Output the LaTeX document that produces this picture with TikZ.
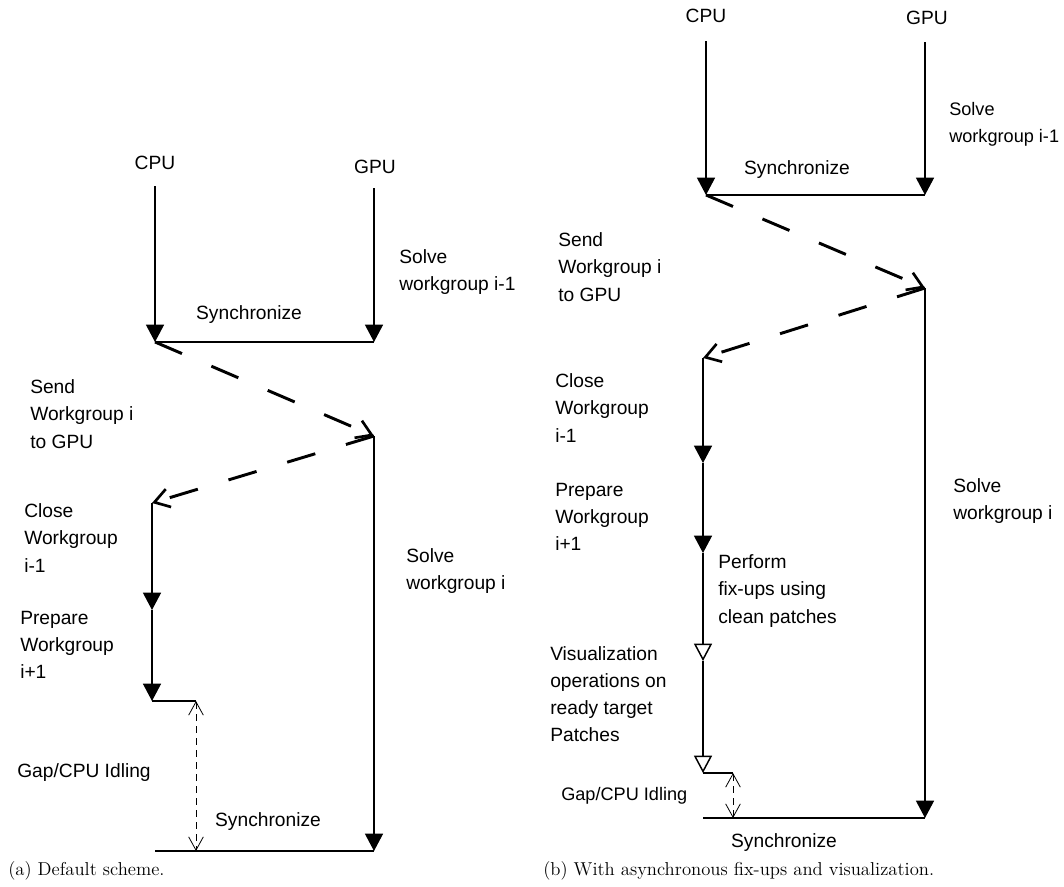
\documentclass[tikz,border=0pt]{standalone}
\usepackage{fontspec}
\newfontfamily\labelfont{Liberation Sans}
\usetikzlibrary{arrows.meta}

\begin{document}
\begin{tikzpicture}[x=0.75pt, y=-0.75pt,
    lane/.style={line width=1.1pt},
    flow/.style={lane, -{Triangle[length=13pt, width=13.5pt]}},
    flowopen/.style={lane, -{Triangle[open, length=13pt, width=13.5pt]}},
    transfer/.style={line width=2.2pt, dash pattern=on 22pt off 24pt, -{Straight Barb[length=11pt, width=14pt, line width=2pt]}},
    idle/.style={line width=0.6pt, dash pattern=on 5pt off 4pt, {Straight Barb[length=10pt, width=11pt]}-{Straight Barb[length=10pt, width=11pt]}},
    lbl/.style={font={\labelfont\fontsize{14.4pt}{20.4pt}\selectfont}, align=left, anchor=west, inner sep=0pt},
    unitlbl/.style={font={\labelfont\fontsize{14.4pt}{20.4pt}\selectfont}, inner sep=0pt},
    subcap/.style={font=\fontsize{14pt}{16pt}\selectfont, anchor=west, inner sep=0pt}]
    \useasboundingbox (0,0) rectangle (1064,886);

    % (a) default scheme
    \node[unitlbl] (aCPU) at (155,163) {CPU};
    \node[unitlbl] (aGPU) at (375,167) {GPU};
    \coordinate (a1) at (155,186);
    \coordinate (a2) at (155,342);
    \coordinate (a3) at (374,188);
    \coordinate (a4) at (374,342);
    \coordinate (a5) at (374,436);
    \coordinate (a6) at (374,851);
    \coordinate (a7) at (152,503);
    \coordinate (a8) at (152,610);
    \coordinate (a9) at (152,701);
    \coordinate (a10) at (196,701);
    \coordinate (a11) at (155,851);
    \coordinate (a12) at (196,851);
    \draw[flow] (a1) -- (a2);
    \draw[flow] (a3) -- (a4);
    \draw[lane] (a2) -- (a4);
    \draw[transfer] (a2) -- (a5);
    \draw[transfer] (a5) -- (a7);
    \draw[flow] (a7) -- (a8);
    \draw[flow] (a8) -- (a9);
    \draw[lane] (a9) -- (a10);
    \draw[idle] (a10) -- (a12);
    \draw[flow] (a5) -- (a6);
    \draw[lane] (a11) -- (a6);
    \node[unitlbl] (aSync1) at (249,315) {Synchronize};
    \node[lbl] (aSolve1) at (399,272) {Solve\\workgroup i-1};
    \node[lbl] (aSend) at (30,414) {Send\\Workgroup i\\to GPU};
    \node[lbl] (aClose) at (24,538) {Close\\Workgroup\\i-1};
    \node[lbl] (aPrep) at (20,645) {Prepare\\Workgroup\\i+1};
    \node[lbl] (aSolve2) at (406,571) {Solve\\workgroup i};
    \node[lbl] (aGap) at (17,773) {Gap/CPU Idling};
    \node[unitlbl] (aSync2) at (268,822) {Synchronize};
    \node[subcap] (aCap) at (8,871) {(a) Default scheme.};

    % (b) asynchronous fix-ups and visualization
    \node[unitlbl] (bCPU) at (706,16) {CPU};
    \node[unitlbl] (bGPU) at (927,18) {GPU};
    \coordinate (b1) at (706,41);
    \coordinate (b2) at (706,195);
    \coordinate (b3) at (925,42);
    \coordinate (b4) at (925,195);
    \coordinate (b5) at (925,288);
    \coordinate (b6) at (925,818);
    \coordinate (b7) at (703,358);
    \coordinate (b8) at (703,463);
    \coordinate (b9) at (703,553);
    \coordinate (b10) at (703,661);
    \coordinate (b11) at (703,773);
    \coordinate (b12) at (733,773);
    \coordinate (b13) at (733,818);
    \coordinate (b14) at (703,818);
    \draw[flow] (b1) -- (b2);
    \draw[flow] (b3) -- (b4);
    \draw[lane] (b2) -- (b4);
    \draw[transfer] (b2) -- (b5);
    \draw[transfer] (b5) -- (b7);
    \draw[flow] (b7) -- (b8);
    \draw[flow] (b8) -- (b9);
    \draw[flowopen] (b9) -- (b10);
    \draw[flowopen] (b10) -- (b11);
    \draw[lane] (b11) -- (b12);
    \draw[idle] (b12) -- (b13);
    \draw[flow] (b5) -- (b6);
    \draw[lane] (b14) -- (b6);
    \node[unitlbl] (bSync1) at (797,170) {Synchronize};
    \node[lbl, font={\labelfont\fontsize{13.6pt}{20.4pt}\selectfont}] (bSolve1) at (949,124) {Solve\\workgroup i-1};
    \node[lbl] (bSend) at (558,267) {Send\\Workgroup i\\to GPU};
    \node[lbl] (bClose) at (555,408) {Close\\Workgroup\\i-1};
    \node[lbl] (bPrep) at (555,517) {Prepare\\Workgroup\\i+1};
    \node[lbl] (bSolve2) at (953,501) {Solve\\workgroup i};
    \node[lbl] (bFix) at (718,591) {Perform\\fix-ups using\\clean patches};
    \node[lbl] (bVis) at (550,694) {Visualization\\operations on\\ready target\\Patches};
    \node[lbl, font={\labelfont\fontsize{13.6pt}{20.4pt}\selectfont}] (bGap) at (561,796) {Gap/CPU Idling};
    \node[unitlbl] (bSync2) at (784,843) {Synchronize};
    \node[subcap] (bCap) at (543,871) {(b) With asynchronous fix-ups and visualization.};
\end{tikzpicture}
\end{document}
